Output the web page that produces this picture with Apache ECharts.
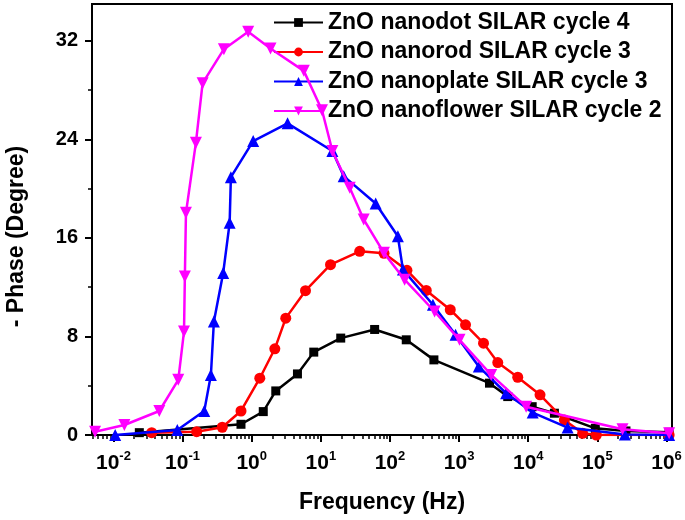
<!DOCTYPE html>
<html><head><meta charset="utf-8">
<script src="https://cdn.jsdelivr.net/npm/echarts@6/dist/echarts.min.js"></script>
<style>html,body{margin:0;padding:0;background:#fff}#c{width:685px;height:520px}</style>
</head><body><div id="c"></div>
<script>
const seriesNames = ['ZnO nanodot SILAR cycle 4','ZnO nanorod SILAR cycle 3','ZnO nanoplate SILAR cycle 3','ZnO nanoflower SILAR cycle 2'];
const nanodotFreq  = [0.0237, 0.70, 1.47, 2.23, 4.59, 7.9, 19.4, 60, 172, 432, 2750, 5050, 11400, 23900, 93300, 259000, 1.09e6];
const nanodotPhase = [0.19, 0.87, 1.90, 3.58, 4.96, 6.73, 7.87, 8.57, 7.73, 6.10, 4.21, 3.12, 2.30, 1.77, 0.54, 0.33, 0.22];
const nanorodFreq  = [0.0358, 0.16, 0.375, 0.70, 1.31, 2.16, 3.11, 6.0, 13.8, 36.5, 82, 176, 335, 745, 1238, 2253, 3623, 7047, 14800, 33300, 61200, 96600, 1.09e6];
const nanorodPhase = [0.19, 0.27, 0.63, 1.95, 4.61, 7.0, 9.49, 11.72, 13.83, 14.92, 14.75, 13.37, 11.74, 10.17, 8.95, 7.46, 5.88, 4.69, 3.26, 1.22, 0.14, 0.0, 0.0];
const nanoplateFreq  = [0.0106, 0.084, 0.206, 0.257, 0.284, 0.387, 0.48, 0.50, 1.05, 3.30, 14.7, 21.4, 62.1, 130, 154, 418, 888, 1927, 4790, 11600, 37100, 250000, 1.09e6];
const nanoplatePhase = [0.0, 0.41, 1.95, 4.88, 9.22, 13.16, 17.23, 20.94, 23.87, 25.31, 23.06, 21.02, 18.80, 16.14, 13.43, 10.58, 8.14, 5.56, 3.39, 1.82, 0.60, 0.05, 0.0];
const nanoflowerFreq  = [0.00543, 0.0144, 0.0461, 0.0867, 0.105, 0.108, 0.112, 0.156, 0.195, 0.396, 0.89, 1.87, 5.67, 10.4, 14.7, 26.2, 41.7, 81.8, 163, 442, 1014, 2910, 9310, 231000, 1.09e6];
const nanoflowerPhase = [0.27, 0.81, 1.95, 4.48, 8.41, 12.88, 18.04, 23.74, 28.57, 31.33, 32.74, 31.39, 29.57, 26.37, 23.06, 20.08, 17.50, 14.79, 12.61, 10.03, 7.73, 4.88, 2.30, 0.46, 0.14];
const xTickExponents = [-2, -1, 0, 1, 2, 3, 4, 5, 6];
const yTickLabels = [0, 8, 16, 24, 32];
const yMinorTicks = [4, 12, 20, 28];
const xMin = 0.0049, xMax = 1.2e6, yMin = 0, yMax = 35;

const colors = ['#000000', '#ff0000', '#0000ff', '#ff00ff'];
const symbols = ['rect', 'circle', 'triangle', 'triangle'];
const symbolSizes = [9, 11, 12, 12];
const rotations = [0, 0, 0, 180];
const freqs = [nanodotFreq, nanorodFreq, nanoplateFreq, nanoflowerFreq];
const phases = [nanodotPhase, nanorodPhase, nanoplatePhase, nanoflowerPhase];

const xMinorLog = [];
for (let e = -3; e <= 6; e++) for (let k = 2; k <= 9; k++) {
  const v = Math.log10(k) + e;
  if (v > Math.log10(xMin) && v < Math.log10(xMax)) xMinorLog.push(v);
}
const font = 'Liberation Sans, Arial, sans-serif';

const chart = echarts.init(document.getElementById('c'), null, {renderer: 'canvas'});
chart.setOption({
  animation: false,
  backgroundColor: '#fff',
  grid: {left: 92, right: 13, top: 4, bottom: 85, show: true, borderColor: '#000', borderWidth: 2, containLabel: false, outerBoundsMode: 'none'},
  legend: {
    orient: 'vertical', left: 273, top: 11, padding: 0,
    itemWidth: 49, itemHeight: 11, itemGap: 6.5,
    textStyle: {fontFamily: font, fontWeight: 'bold', fontSize: 23, color: '#000', lineHeight: 23},
    data: seriesNames
  },
  xAxis: [
    {type: 'log', min: xMin, max: xMax, show: false, gridIndex: 0},
    {type: 'value', min: Math.log10(xMin), max: Math.log10(xMax), position: 'bottom', gridIndex: 0,
     axisLine: {show: true, onZero: false, lineStyle: {color: '#000', width: 2}},
     axisTick: {show: true, inside: false, length: 7, lineStyle: {color: '#000', width: 2}, customValues: xTickExponents},
     axisLabel: {show: true, margin: 15, customValues: xTickExponents,
       formatter: v => '{b|10}{s|' + Math.round(v) + '}',
       rich: {
         b: {fontFamily: font, fontWeight: 'bold', fontSize: 21, color: '#000', lineHeight: 26},
         s: {fontFamily: font, fontWeight: 'bold', fontSize: 13, color: '#000', lineHeight: 10, verticalAlign: 'top'}
       }},
     splitLine: {show: false},
     name: 'Frequency (Hz)', nameLocation: 'middle', nameGap: 56,
     nameTextStyle: {fontFamily: font, fontWeight: 'bold', fontSize: 23, color: '#000'}},
    {type: 'value', min: Math.log10(xMin), max: Math.log10(xMax), position: 'bottom', gridIndex: 0,
     axisLine: {show: false, onZero: false},
     axisTick: {show: true, inside: false, length: 4, lineStyle: {color: '#000', width: 1.5}, customValues: xMinorLog},
     axisLabel: {show: false}, splitLine: {show: false}}
  ],
  yAxis: [
    {type: 'value', min: yMin, max: yMax, gridIndex: 0,
     axisLine: {show: true, onZero: false, lineStyle: {color: '#000', width: 2}},
     axisTick: {show: true, inside: false, length: 7, lineStyle: {color: '#000', width: 2}, customValues: yTickLabels},
     axisLabel: {show: true, margin: 14, customValues: yTickLabels, fontFamily: font, fontWeight: 'bold', fontSize: 20, color: '#000'},
     splitLine: {show: false},
     name: '- Phase (Degree)', nameLocation: 'middle', nameGap: 64,
     nameTextStyle: {fontFamily: font, fontWeight: 'bold', fontSize: 23, color: '#000', padding: [0, 34, 0, 0]}},
    {type: 'value', min: yMin, max: yMax, gridIndex: 0, position: 'left',
     axisLine: {show: false, onZero: false},
     axisTick: {show: true, inside: false, length: 4, lineStyle: {color: '#000', width: 1.5}, customValues: yMinorTicks},
     axisLabel: {show: false}, splitLine: {show: false}}
  ],
  series: seriesNames.map((name, i) => ({
    name, type: 'line', xAxisIndex: 0, yAxisIndex: 0,
    data: freqs[i].map((f, j) => [f, phases[i][j]]),
    symbol: symbols[i], symbolSize: symbolSizes[i], symbolRotate: rotations[i],
    lineStyle: {color: colors[i], width: 2.5},
    itemStyle: {color: colors[i]},
    z: 2 + i
  }))
});
</script></body></html>
